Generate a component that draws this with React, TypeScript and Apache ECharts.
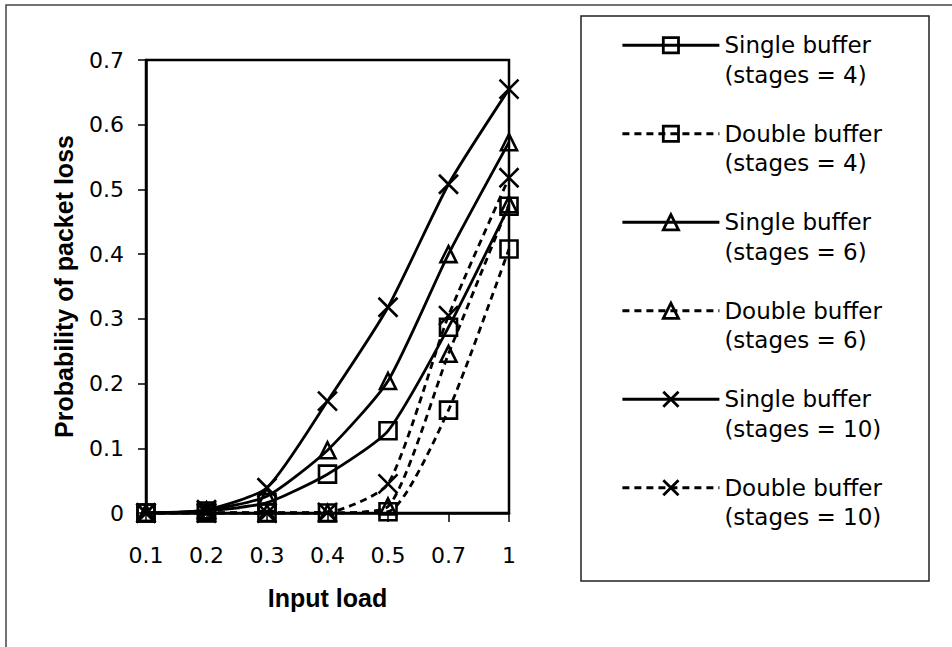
import React, { useEffect, useRef } from 'react';
import * as echarts from 'echarts';

const categories = ['0.1', '0.2', '0.3', '0.4', '0.5', '0.7', '1'];
const yTicks = [0, 0.1, 0.2, 0.3, 0.4, 0.5, 0.6, 0.7];

const single4 = [0, 0.003, 0.016, 0.06, 0.127, 0.287, 0.474];
const double4 = [0, 0, 0, 0, 0.002, 0.159, 0.408];
const single6 = [0, 0.004, 0.026, 0.097, 0.204, 0.4, 0.573];
const double6 = [0, 0, 0, 0, 0.01, 0.246, 0.477];
const single10 = [0, 0.005, 0.039, 0.173, 0.318, 0.508, 0.655];
const double10 = [0, 0, 0, 0.001, 0.045, 0.305, 0.518];

const seriesNames = [
  'Single buffer (stages = 4)',
  'Double buffer (stages = 4)',
  'Single buffer (stages = 6)',
  'Double buffer (stages = 6)',
  'Single buffer (stages = 10)',
  'Double buffer (stages = 10)',
];

const CROSS = 'path://M0,0L10,10M10,0L0,10';

export default function App() {
  const ref = useRef<HTMLDivElement>(null);

  useEffect(() => {
    document.body.style.margin = '0';
    if (!ref.current) return;
    const chart = echarts.init(ref.current, undefined, { renderer: 'svg' });

    const mk = (name: string, data: number[], dashed: boolean, symbol: string, size: number) => ({
      name,
      type: 'line',
      data,
      smooth: 0.2,
      showSymbol: true,
      showAllSymbol: true,
      symbol,
      symbolSize: size,
      lineStyle: { color: '#000', width: 2.8, type: dashed ? [7, 5] : 'solid' },
      itemStyle: { color: 'rgba(255,255,255,0)', borderColor: '#000', borderWidth: 2.6 },
      emphasis: { disabled: true },
    });

    chart.setOption({
      animation: false,
      backgroundColor: '#fff',
      graphic: [
        {
          type: 'rect',
          shape: { x: 6, y: 5, width: 1000, height: 700 },
          style: { fill: 'none', stroke: '#444', lineWidth: 1.5 },
          silent: true,
        },
        {
          type: 'rect',
          shape: { x: 581, y: 16, width: 348, height: 565 },
          style: { fill: 'none', stroke: '#222', lineWidth: 1.5 },
          silent: true,
        },
      ],
      grid: {
        left: 146,
        top: 60,
        right: 443,
        bottom: 134,
        show: true,
        borderColor: '#000',
        borderWidth: 2.5,
        containLabel: false,
      },
      legend: {
        orient: 'vertical',
        left: 621,
        top: 1,
        padding: 0,
        itemGap: 0,
        itemWidth: 97,
        itemHeight: 19,
        selectedMode: false,
        data: seriesNames,
        lineStyle: { width: 2.8 },
        itemStyle: { borderWidth: 2.8 },
        formatter: (name: string) => '\n' + name.replace(' (', '\n('),
        textStyle: {
          color: '#000',
          fontFamily: 'DejaVu Sans',
          fontSize: 23,
          lineHeight: 29.5,
        },
      },
      xAxis: {
        type: 'category',
        data: categories,
        boundaryGap: false,
        name: 'Input load',
        nameLocation: 'middle',
        nameGap: 72,
        nameTextStyle: {
          color: '#000',
          fontFamily: 'Liberation Sans',
          fontWeight: 'bold',
          fontSize: 25,
        },
        axisLine: { lineStyle: { color: '#000', width: 2.5 } },
        axisTick: { show: true, length: 9, lineStyle: { color: '#000', width: 1.5 } },
        axisLabel: {
          color: '#000',
          fontFamily: 'DejaVu Sans',
          fontSize: 22,
          margin: 31,
        },
        splitLine: { show: false },
      },
      yAxis: {
        type: 'value',
        min: yTicks[0],
        max: yTicks[yTicks.length - 1],
        interval: 0.1,
        name: 'Probability of packet loss',
        nameLocation: 'middle',
        nameGap: 70,
        nameTextStyle: {
          color: '#000',
          fontFamily: 'Liberation Sans',
          fontWeight: 'bold',
          fontSize: 25,
        },
        axisLine: { show: true, lineStyle: { color: '#000', width: 2.5 } },
        axisTick: { show: true, length: 8, lineStyle: { color: '#000', width: 1.5 } },
        axisLabel: {
          color: '#000',
          fontFamily: 'DejaVu Sans',
          fontSize: 22,
          margin: 22,
          formatter: (v: number) => String(Math.round(v * 10) / 10),
        },
        splitLine: { show: false },
      },
      series: [
        mk(seriesNames[0], single4, false, 'rect', 17),
        mk(seriesNames[1], double4, true, 'rect', 17),
        mk(seriesNames[2], single6, false, 'triangle', 16),
        mk(seriesNames[3], double6, true, 'triangle', 16),
        mk(seriesNames[4], single10, false, CROSS, 19),
        mk(seriesNames[5], double10, true, CROSS, 19),
      ],
    });

    return () => chart.dispose();
  }, []);

  return (
    <div
      ref={ref}
      style={{ position: 'absolute', left: 0, top: 0, width: 952, height: 647 }}
    />
  );
}
